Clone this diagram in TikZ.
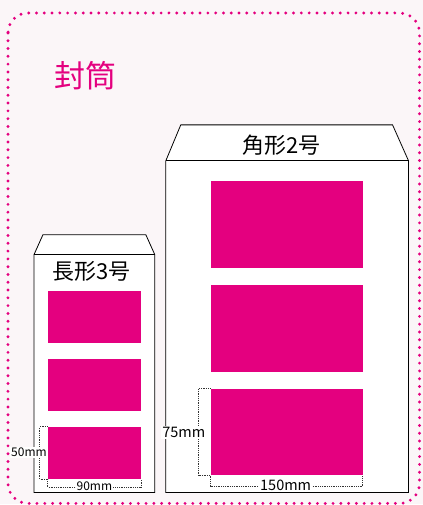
\documentclass[tikz,border=0pt]{standalone}
\usepackage{fontspec}
\setmainfont{Noto Sans CJK JP}
\usetikzlibrary{positioning}
\definecolor{pinkred}{RGB}{228,0,127}
\definecolor{bgpink}{RGB}{251,246,248}

\begin{document}
\begin{tikzpicture}[x=1pt, y=-1pt,
		card/.style={fill=pinkred, inner sep=0pt, rectangle},
		dimline/.style={densely dotted, line width=0.8pt, black!80},
		dimtext/.style={fill=white, inner sep=1pt, font=\fontsize{#1}{#1}\selectfont},
		envline/.style={line width=0.8pt, line join=miter}]
		% background and dotted frame
		\fill[bgpink] (0,0) rectangle (423,505);
		\draw[pinkred, line width=3.2pt, line cap=round, dash pattern=on 0pt off 7.8pt, rounded corners=20pt] (8,13) rectangle (420,504);
		\node[pinkred, font=\fontsize{31}{31}\selectfont] (title) at (86,76) {封筒};
		
		% big envelope
		\draw[envline, fill=white] (166,493) -- (166,161) -- (181,125) -- (393,125) -- (409,161) -- (409,493) -- cycle;
		\draw[envline] (166,161) -- (409,161);
		\node[font=\fontsize{22}{22}\selectfont] (kaku) at (282,145) {角形2号};
		\foreach \i/\y in {1/224.5, 2/329, 3/432.5}{
			\node[card, minimum width=152pt, minimum height=87pt] (k\i) at (287,\y) {};
		}
		
		% small envelope
		\draw[envline, fill=white] (34,493) -- (34,255) -- (43,235) -- (146,235) -- (155,255) -- (155,493) -- cycle;
		\draw[envline] (34,255) -- (155,255);
		\node[font=\fontsize{22}{22}\selectfont] (naga) at (92,272) {長形3号};
		\foreach \i/\y in {1/317, 2/385, 3/453.5}{
			\node[card, minimum width=93pt, minimum height=52pt] (n\i) at (94.5,\y) {};
		}
		
		% size marks
		\draw[dimline] (k3.north west) -- ++(-12pt,0) |- (k3.south west);
		\draw[dimline] (k3.south west) -- ++(0,-11pt) -| (k3.south east);
		\node[dimtext=14.5] (kh) at (184,433) {75mm};
		\node[dimtext=14.5] (kw) at (286,486) {150mm};
		\draw[dimline] (n3.north west) -- ++(-8pt,0) |- (n3.south west);
		\draw[dimline] (n3.south west) -- ++(0,-8pt) -| (n3.south east);
		\node[dimtext=12] (nh) at (29,453) {50mm};
		\node[dimtext=12] (nw) at (94.5,487) {90mm};
\end{tikzpicture}
\end{document}
